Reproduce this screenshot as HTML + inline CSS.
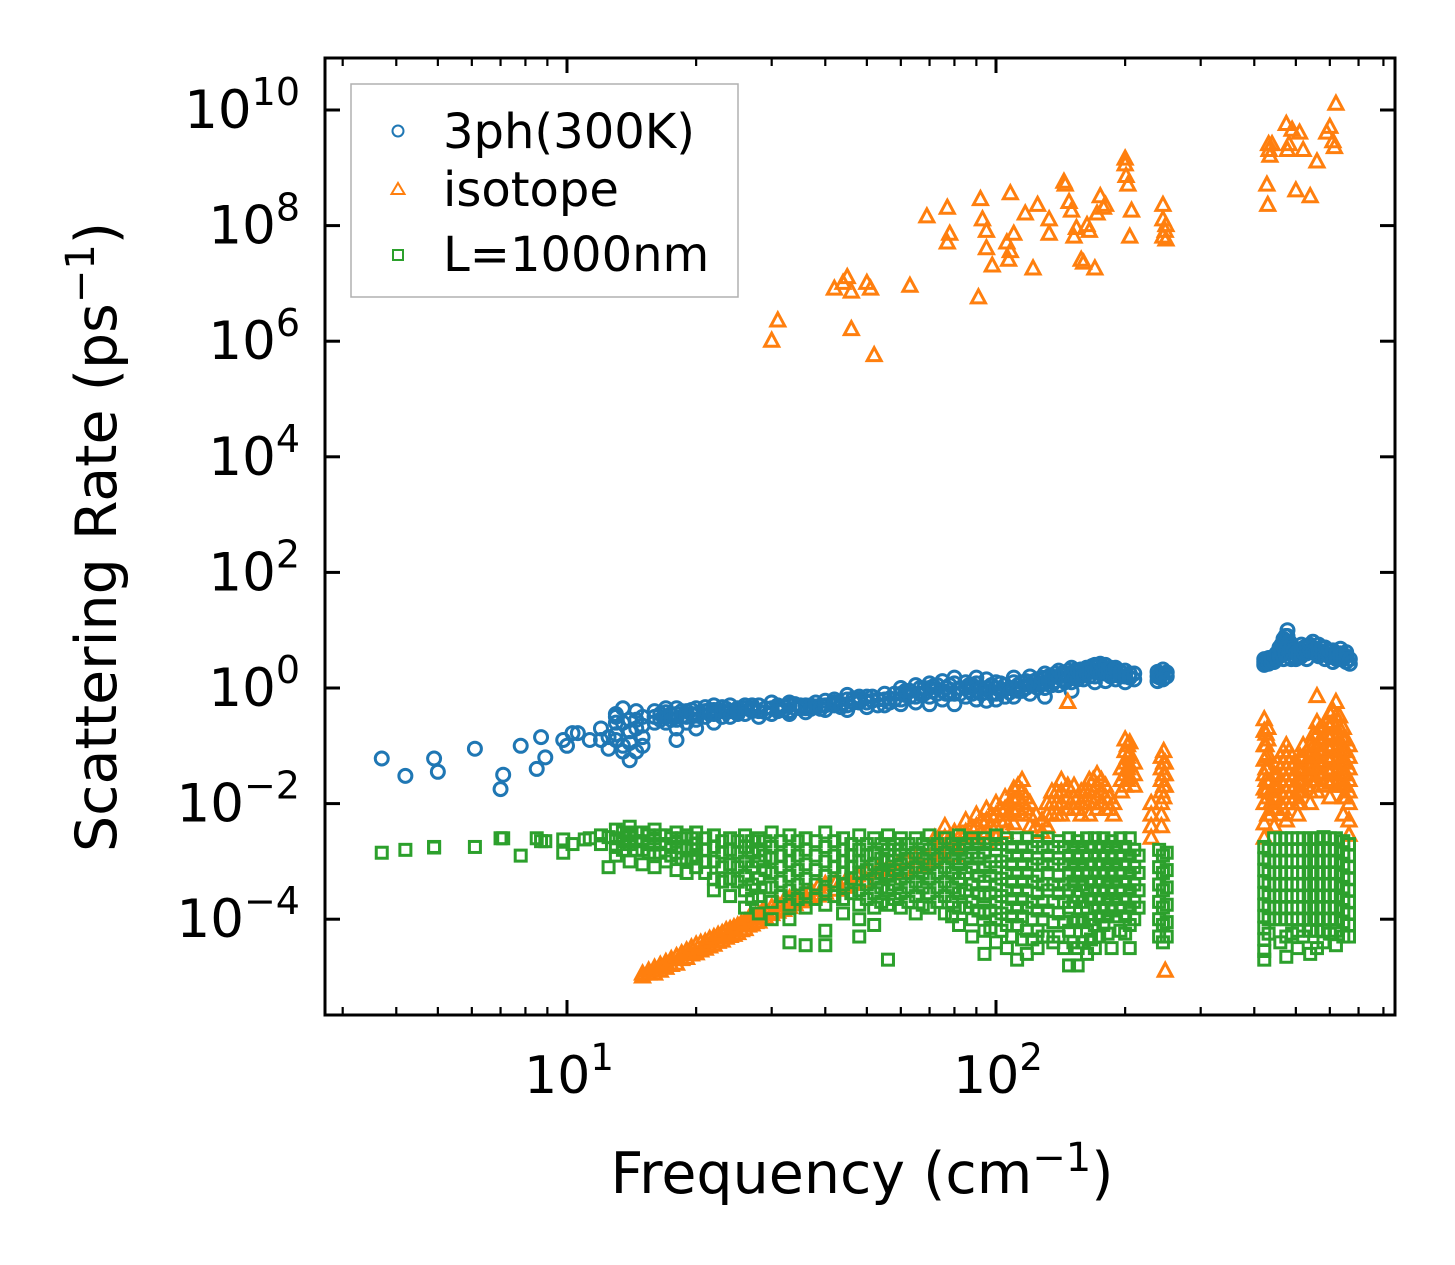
<!DOCTYPE html>
<html><head><meta charset="utf-8">
<style>
html,body{margin:0;padding:0;background:#fff;}
svg{display:block;font-family:"DejaVu Sans","Liberation Sans",sans-serif;}
</style></head>
<body>
<svg id="chart" width="1455" height="1265" viewBox="0 0 1455 1265" xmlns="http://www.w3.org/2000/svg">
<rect x="0" y="0" width="1455" height="1265" fill="#fff"/>
<g id="marks"></g>
<g id="axes"></g>
<g id="legend">
  <rect x="351" y="84" width="387" height="213" fill="#fff" fill-opacity="0.8" stroke="#b0b0b0" stroke-width="1.5"/>
  <circle cx="398" cy="131" r="5.5" fill="none" stroke="#1f77b4" stroke-width="2"/>
  <text x="443" y="148" font-size="48">3ph(300K)</text>
  <path d="M398,183 L404.5,194 L391.5,194 Z" fill="none" stroke="#ff7f0e" stroke-width="2"/>
  <text x="443" y="206" font-size="48">isotope</text>
  <rect x="393" y="250" width="10" height="10" fill="none" stroke="#2ca02c" stroke-width="2"/>
  <text x="443" y="271" font-size="48">L=1000nm</text>
</g>
</svg>
<script>
// ---- data: [frequency cm^-1, [log10 scattering rates ...]] ----
const xTickValues = [10, 100];
const yTickExponents = [-4, -2, 0, 2, 4, 6, 8, 10];
const blue3ph = [
[3.7,[-1.22]],[4.2,[-1.52]],[4.9,[-1.22]],[5,[-1.45]],[6.1,[-1.05]],[7,[-1.75]],[7.1,[-1.5]],[7.8,[-1.0]],[8.5,[-1.4]],[8.7,[-0.85]],[8.9,[-1.2]],
[9.8,[-0.9]],[10,[-1.0]],[10.3,[-0.78]],[10.6,[-0.78]],[11.3,[-0.9]],[12,[-0.9,-0.7]],[12.5,[-0.85,-1.05]],
[13,[-0.6,-0.5,-0.9,-0.8,-0.45]],[13.5,[-0.35,-0.6,-1.1,-1.0]],[14,[-0.55,-0.75,-1.25,-0.95]],[14.5,[-0.4,-0.55,-0.7,-1.1]],[15,[-0.5,-0.65,-1.0,-0.85]],
[16,[-0.5,-0.4,-0.6]],[16.5,[-0.45,-0.55]],[17,[-0.5,-0.42,-0.6,-0.35]],[17.5,[-0.45,-0.55]],[18,[-0.45,-0.55,-0.7,-0.9,-0.35]],[18.5,[-0.4,-0.5]],[19,[-0.5,-0.4,-0.6]],[19.5,[-0.45,-0.38]],[20,[-0.45,-0.55,-0.35,-0.7]],
[21,[-0.4,-0.5,-0.33]],[21.5,[-0.45,-0.38]],[22,[-0.45,-0.38,-0.6,-0.3]],[23,[-0.4,-0.5,-0.33]],[23.5,[-0.42,-0.36]],[24,[-0.4,-0.5,-0.3]],[25,[-0.35,-0.45,-0.4]],[26,[-0.35,-0.45,-0.3]],[27,[-0.4,-0.3,-0.35]],[28,[-0.4,-0.3,-0.5]],[29,[-0.35,-0.42]],
[30,[-0.35,-0.25,-0.45]],[31,[-0.35,-0.3,-0.4]],[32,[-0.32,-0.38]],[33,[-0.3,-0.4,-0.45,-0.25]],[34,[-0.35,-0.28]],[35,[-0.35,-0.3]],[36,[-0.35,-0.3,-0.42]],[37,[-0.3,-0.36]],[38,[-0.32,-0.25]],[39,[-0.3,-0.36]],[40,[-0.3,-0.38,-0.22]],
[42,[-0.3,-0.2,-0.25]],[43.5,[-0.27,-0.33]],[45,[-0.3,-0.2,-0.12,-0.38]],[46.5,[-0.25,-0.18]],[48,[-0.25,-0.15,-0.2]],[50,[-0.25,-0.15,-0.33]],[51.5,[-0.22,-0.15]],[53,[-0.2,-0.3]],[55,[-0.3,-0.2,-0.1]],[56.5,[-0.18,-0.25]],[58,[-0.2,-0.1]],
[60,[-0.2,-0.1,0,-0.28]],[61.5,[-0.12,-0.05]],[63,[-0.15,-0.05]],[65,[-0.15,-0.25,0.05]],[66.5,[-0.1,0]],[68,[-0.1,0]],[70,[-0.15,0,0.08,-0.28]],[71.5,[-0.05,0.03]],[73,[-0.1,0.05]],[75,[-0.2,-0.05,0.12]],[76.5,[0,-0.1]],[78,[-0.1,0.05]],
[80,[-0.1,0.08,-0.28,0.18]],[82.5,[0,-0.1]],[85,[-0.15,0,0.1]],[86.5,[-0.05,0.05]],[88,[-0.1,0.05]],[90,[-0.2,0.08,0.18,-0.05]],[92.5,[0,-0.1]],[95,[-0.22,0,0.15]],[97.5,[-0.1,0.05]],[100,[-0.2,-0.1,0.1,0]],[102.5,[-0.05,0.08]],[105,[-0.15,0.05]],[107.5,[0,-0.08]],
[110,[-0.15,0,0.1,0.18]],[112.5,[0.05,-0.05]],[115,[-0.05,0.1]],[117.5,[0,0.12]],[120,[-0.1,0.05,0.2]],[122.5,[0.05,0.12]],[125,[0,0.15]],[127.5,[0.08,0.18]],[130,[0,0.1,0.25,-0.15]],[132.5,[0.12,0.2]],[135,[0.05,0.2]],[137.5,[0.12,0.25]],[140,[0.05,0.2,0.3]],[142.5,[0.15,0.25]],[145,[0.1,0.25]],[147.5,[0.18,0.3]],
[150,[0.1,0.25,0.35,-0.05]],[152.5,[0.2,0.3]],[155,[0.15,0.3]],[157.5,[0.22,0.32]],[160,[0.15,0.3,0.22]],[162.5,[0.25,0.35]],[165,[0.2,0.35]],[167.5,[0.28,0.38]],[170,[0.2,0.4,0.1,0.3]],[172.5,[0.3,0.4]],[175,[0.25,0.42]],[177.5,[0.3,0.36]],[180,[0.25,0.4,0.12]],
[182.5,[0.25,0.32]],[185,[0.2,0.35]],[187.5,[0.22,0.3]],[190,[0.15,0.3,0.35]],[195,[0.2,0.28]],[200,[0.1,0.2,0.3]],[205,[0.18,0.25]],[210,[0.15,0.25]],[238,[0.12,0.2,0.28]],[241,[0.18,0.25]],[245,[0.15,0.25,0.32]],[250,[0.2,0.27]],
[422,[0.45,0.5,0.4]],[427,[0.42,0.5]],[432,[0.42,0.52]],[438,[0.45,0.52]],[445,[0.45,0.55]],[451,[0.5,0.6]],[458,[0.55,0.7]],[463,[0.6,0.75]],[468,[0.7,0.85,0.5]],[473,[0.8,0.9,0.6]],[478,[0.9,1.0,0.75]],[483,[0.8,0.65]],[488,[0.65,0.75,0.5]],[494,[0.55,0.65]],
[500,[0.5,0.6]],[507,[0.55,0.65]],[515,[0.55,0.65,0.75]],[522,[0.6,0.7]],[530,[0.6,0.72,0.5]],[539,[0.65,0.75]],[548,[0.7,0.62,0.8]],[556,[0.68,0.6]],[565,[0.65,0.55,0.75]],[575,[0.6,0.7]],[585,[0.6,0.5,0.7]],[597,[0.55,0.65]],[610,[0.55,0.65,0.45]],[622,[0.5,0.6]],
[635,[0.5,0.6,0.68]],[645,[0.5,0.58]],[655,[0.45,0.55,0.62]],[668,[0.42,0.5]]
];
const orangeIsotope = [
[30,[6.0]],[31,[6.35]],[42,[6.9]],[44,[7.0]],[45,[7.1]],[46,[6.2,6.85]],[50,[7.0]],[51,[6.9]],[52,[5.75]],[63,[6.95]],[69,[8.15]],
[77,[7.7,8.3]],[78,[7.85]],[91,[6.75]],[92,[8.45]],[93,[8.1]],[95,[7.9,7.6]],[98,[7.3]],[106,[7.7]],[107,[7.4]],[108,[8.55,7.55]],
[110,[7.85]],[117,[8.2]],[122,[7.25]],[125,[8.35]],[133,[8.1,7.85]],[144,[8.75]],[145,[8.7]],[148,[8.4]],[150,[8.25]],[152,[7.8]],
[154,[7.95]],[158,[7.4]],[160,[7.35]],[163,[8.0]],[165,[7.9]],[170,[7.25]],[172,[8.2]],[175,[8.5]],[178,[8.3]],[180,[8.35]],
[200,[9.15,9.05]],[201,[8.85]],[203,[8.7]],[205,[7.8]],[207,[8.25]],[245,[8.35,8.1,7.8]],[248,[7.9]],[249,[7.75,8.0]],
[428,[8.7]],[430,[8.35]],[432,[9.4]],[433,[9.3]],[435,[9.2]],[440,[9.4]],[475,[9.75]],[478,[9.3]],[482,[9.4]],[490,[9.65]],[500,[8.6]],
[510,[9.6]],[520,[9.3]],[540,[8.5]],[560,[9.1]],[590,[9.6]],[600,[9.7]],[610,[9.45]],[620,[10.1]],[615,[9.35]],
[15,[-4.95,-5.0]],[15.5,[-4.9,-4.95]],[16,[-4.85,-4.95]],[16.5,[-4.8,-4.9]],[17,[-4.75,-4.85]],[17.5,[-4.7,-4.8]],[18,[-4.65,-4.78]],[18.5,[-4.6,-4.7]],
[19,[-4.55,-4.68]],[19.5,[-4.5,-4.62]],[20,[-4.45,-4.6]],[20.5,[-4.42,-4.55]],[21,[-4.4,-4.52]],[21.5,[-4.35,-4.48]],[22,[-4.32,-4.45]],[22.5,[-4.28,-4.4]],[23,[-4.25,-4.38]],[23.5,[-4.2,-4.33]],[24,[-4.18,-4.3]],[24.5,[-4.15,-4.28]],[25,[-4.12,-4.25]],
[25.5,[-4.08,-4.2]],[26,[-4.05,-4.18]],[26.5,[-4.0,-4.12]],[27,[-3.98,-4.1]],[27.5,[-3.95,-4.06]],[28,[-3.92,-4.05]],[28.5,[-3.88,-4.0]],[29,[-3.85,-3.98]],[30,[-3.8,-3.92]],[31,[-3.75,-3.88]],[32,[-3.7,-3.85]],[33,[-3.65,-3.8]],[34,[-3.6,-3.75]],[35.5,[-3.55,-3.7]],[37,[-3.5,-3.65]],
[38.5,[-3.45,-3.6]],[40,[-3.4,-3.55]],[42.5,[-3.35,-3.5]],[45,[-3.3,-3.45]],[47.5,[-3.25,-3.4]],[50,[-3.2,-3.35]],[53,[-3.15,-3.3]],[56,[-3.1,-3.25]],[59,[-3.05,-3.2]],[62,[-3.0,-3.15]],[65,[-2.95,-3.1]],[68,[-2.9,-3.1]],
[72,[-2.6,-2.8,-3.0]],[74,[-2.7,-2.9]],[76,[-2.4,-2.6,-2.8]],[78,[-2.6,-2.8]],[80,[-2.5,-2.7,-2.9]],[82.5,[-2.55,-2.75]],[85,[-2.3,-2.5,-2.7]],[87.5,[-2.4,-2.6]],[90,[-2.2,-2.4,-2.6]],[92.5,[-2.3,-2.5]],[95,[-2.1,-2.3,-2.5,-2.7]],[97.5,[-2.2,-2.4]],
[100,[-2.0,-2.2,-2.4,-2.6]],[102.5,[-2.1,-2.3]],[105,[-1.9,-2.1,-2.3,-2.5]],[107.5,[-2.0,-2.2]],[110,[-1.75,-1.95,-2.15,-2.35]],[112.5,[-1.7,-1.9,-2.1]],[115,[-1.6,-1.8,-2.0,-2.2]],[117.5,[-1.9,-2.1]],[120,[-2.0,-2.2,-2.4]],[124,[-2.2,-2.4]],
[128,[-2.3,-2.5]],[131.5,[-2.0,-2.2,-2.4]],[135,[-1.8,-2.0,-2.2]],[138.5,[-1.8,-2.0,-2.2]],[142,[-1.6,-1.8,-2.0,-2.2]],[147,[-0.25,-1.7,-1.9,-2.1]],[152,[-1.7,-1.9,-2.1]],[155,[-1.9,-2.1]],[158,[-1.8,-2.0,-2.2]],[161.5,[-1.8,-2.0]],
[165,[-1.6,-1.8,-2.0,-2.2]],[168.5,[-1.6,-1.8,-2.0]],[172,[-1.5,-1.7,-1.9,-2.1]],[176,[-1.6,-1.8,-2.0]],[180,[-1.7,-1.9,-2.1]],[184,[-1.9,-2.1]],[188,[-2.0,-2.2]],[196,[-1.4,-1.6,-1.8]],[200,[-0.9,-1.1,-1.3,-1.5,-1.7]],[202.5,[-1.0,-1.2,-1.4,-1.6]],
[205,[-0.95,-1.15,-1.35,-1.55]],[210,[-1.3,-1.5,-1.7]],[230,[-2.0,-2.2,-2.4,-2.6]],[243,[-1.2,-1.4,-1.6,-1.8,-2.0,-2.2,-2.4]],[246,[-1.1,-1.3,-1.5,-1.7,-1.9]],[248,[-1.3,-1.5,-1.7,-4.9]],
[422,[-0.55,-0.75,-1.0,-1.25,-1.5,-1.75,-2.0,-2.35,-2.6]],[426,[-0.8,-1.0,-1.2,-1.4,-1.6,-1.8]],[430,[-0.7,-0.9,-1.15,-1.4,-1.65,-1.9,-2.2]],[437,[-1.6,-1.8,-2.0,-2.2]],[445,[-1.5,-1.7,-1.9,-2.1,-2.4]],[452,[-1.3,-1.5,-1.7,-1.9,-2.1]],
[460,[-1.2,-1.4,-1.6,-1.8,-2.0,-2.2]],[467,[-1.1,-1.3,-1.5,-1.7,-1.9,-2.1]],[475,[-1.0,-1.2,-1.4,-1.6,-1.8,-2.0,-2.3]],[482,[-1.1,-1.3,-1.5,-1.7,-1.9]],[490,[-1.2,-1.4,-1.6,-1.8,-2.0]],[497,[-1.3,-1.5,-1.7,-1.9]],[505,[-1.4,-1.6,-1.8,-2.0,-2.2]],
[512,[-1.2,-1.4,-1.6,-1.8,-2.0]],[520,[-1.0,-1.2,-1.4,-1.6,-1.8]],[530,[-1.1,-1.3,-1.5,-1.7]],[540,[-1.0,-1.2,-1.4,-1.6,-1.8,-2.0]],[550,[-0.8,-1.0,-1.2,-1.4,-1.6]],[560,[-0.15,-0.6,-0.8,-1.0,-1.2,-1.4,-1.6,-1.8]],[570,[-0.7,-0.9,-1.1,-1.3,-1.5]],[580,[-0.7,-0.9,-1.1,-1.3,-1.5,-1.7]],
[590,[-0.6,-0.8,-1.0,-1.2,-1.4,-1.6]],[600,[-0.45,-0.65,-0.85,-1.05,-1.25,-1.45,-1.65,-1.9]],[610,[-0.4,-0.6,-0.8,-1.0,-1.2,-1.4,-1.6]],[620,[-0.25,-0.5,-0.7,-0.9,-1.1,-1.3,-1.5,-1.7]],[632,[-0.5,-0.7,-0.9,-1.1,-1.3,-1.5,-1.7]],[645,[-0.7,-0.9,-1.1,-1.3,-1.5,-1.7,-1.9,-2.2]],
[655,[-0.9,-1.1,-1.3,-1.5,-1.7,-1.9]],[665,[-1.0,-1.2,-1.4,-1.6,-1.8,-2.0,-2.3,-2.55]]
];
const greenBoundary = [
[3.7,[-2.85]],[4.2,[-2.8]],[4.9,[-2.75,-2.76]],[6.1,[-2.75]],[7,[-2.6]],[7.1,[-2.6]],[7.8,[-2.9]],[8.5,[-2.6]],[8.7,[-2.65]],[8.9,[-2.65]],
[9.8,[-2.62,-2.85]],[10.3,[-2.7]],[11,[-2.62]],[11.3,[-2.6]],[12,[-2.7,-2.55]],[12.5,[-2.58,-3.1]],
[13,[-2.45,-2.6,-2.75,-2.9]],[13.5,[-2.5,-2.65,-2.8]],[14,[-2.4,-2.55,-2.7,-3.0]],[14.5,[-2.5,-2.65,-2.8]],[15,[-2.5,-2.65,-2.8,-3.05]],[15.5,[-2.55,-2.7,-2.85]],[16,[-2.45,-2.6,-2.9,-3.1]],[16.5,[-2.55,-2.7,-2.85]],[17,[-2.55,-2.7,-3.0]],[17.5,[-2.6,-2.75,-2.9]],
[18,[-2.5,-2.65,-2.85,-3.15]],[18.5,[-2.6,-2.75,-2.95]],[19,[-2.55,-2.75,-3.0,-3.2]],[19.5,[-2.6,-2.8,-2.95]],[20,[-2.5,-2.7,-2.9,-3.1]],[21,[-2.6,-2.8,-3.0,-3.2]],[22,[-2.55,-2.75,-3.0,-3.3,-3.5]],[23,[-2.65,-2.85,-3.1,-3.35]],[24,[-2.6,-2.8,-3.05,-3.3,-3.6]],[25,[-2.65,-2.85,-3.1,-3.35]],
[26,[-2.55,-2.75,-3.0,-3.25,-3.5,-3.8]],[27,[-2.65,-2.85,-3.1,-3.4,-3.65]],[28,[-2.6,-2.8,-3.0,-3.3,-3.6,-3.9]],[29,[-2.65,-2.9,-3.15,-3.45]],[30,[-2.5,-2.75,-2.95,-3.2,-3.45,-3.7,-4.0]],[31.5,[-2.65,-2.9,-3.1,-3.35,-3.6]],
[33,[-2.55,-2.8,-3.0,-3.25,-3.5,-3.75,-4.0,-4.4]],[34.5,[-2.65,-2.9,-3.15,-3.4,-3.65]],[36,[-2.6,-2.8,-3.05,-3.3,-3.55,-3.8,-4.45]],[38,[-2.65,-2.9,-3.15,-3.4,-3.65]],[40,[-2.5,-2.75,-3.0,-3.25,-3.5,-3.75,-4.45,-4.2]],[42,[-2.65,-2.9,-3.1,-3.35,-3.6]],
[44,[-2.6,-2.8,-3.0,-3.2,-3.4,-3.65,-3.9]],[46,[-2.7,-2.9,-3.1,-3.3,-3.55]],[48,[-2.55,-2.8,-3.0,-3.2,-3.5,-3.75,-4.3,-4.0]],[50,[-2.7,-2.9,-3.15,-3.4,-3.65]],[52,[-2.6,-2.85,-3.05,-3.3,-3.55,-3.8,-4.1]],[54,[-2.7,-2.95,-3.2,-3.45,-3.7]],
[56,[-2.55,-2.8,-3.0,-3.25,-3.5,-3.75,-4.7]],[58,[-2.7,-2.9,-3.15,-3.4,-3.65]],[60,[-2.6,-2.8,-3.05,-3.3,-3.55,-3.8]],[62.5,[-2.7,-2.95,-3.2,-3.45,-3.7]],[65,[-2.6,-2.85,-3.1,-3.35,-3.6,-3.9]],[67.5,[-2.7,-2.95,-3.2,-3.45,-3.75]],
[70,[-2.55,-2.8,-3.05,-3.3,-3.55,-3.8]],[73,[-2.7,-2.95,-3.2,-3.45,-3.7]],[76,[-2.6,-2.85,-3.1,-3.35,-3.6,-3.9]],[79,[-2.7,-2.95,-3.2,-3.45,-3.7,-3.95]],[82,[-2.55,-2.8,-3.05,-3.3,-3.55,-3.8,-4.1]],[85,[-2.7,-2.95,-3.2,-3.5,-3.8]],
[88,[-2.6,-2.85,-3.1,-3.4,-3.7,-4.0,-4.3]],[91,[-2.7,-2.95,-3.25,-3.55,-3.85]],[94,[-2.6,-2.85,-3.1,-3.35,-3.6,-3.9,-4.2,-4.6]],[97,[-2.7,-3.0,-3.25,-3.55,-3.85,-4.15]],[100,[-2.55,-2.8,-3.1,-3.4,-3.7,-4.0,-4.4]],[103,[-2.7,-3.0,-3.3,-3.6,-3.9,-4.2]],
[106,[-2.6,-2.9,-3.2,-3.5,-3.8,-4.1,-4.5]],[109,[-2.75,-3.05,-3.35,-3.65,-3.95,-4.3]],[112,[-2.6,-2.9,-3.2,-3.5,-3.8,-4.1,-4.7]],[115,[-2.75,-3.05,-3.35,-3.65,-3.95,-4.35]],[118,[-2.6,-2.9,-3.2,-3.5,-3.8,-4.2,-4.6]],[121.5,[-2.75,-3.05,-3.35,-3.7,-4.0,-4.35]],
[125,[-2.65,-2.95,-3.25,-3.55,-3.85,-4.2,-4.5]],[128.5,[-2.75,-3.05,-3.4,-3.7,-4.0,-4.3]],[132,[-2.6,-2.9,-3.2,-3.5,-3.85,-4.3]],[136,[-2.75,-3.05,-3.4,-3.7,-4.05,-4.4]],[140,[-2.65,-2.95,-3.25,-3.55,-3.9,-4.3]],[144,[-2.75,-3.05,-3.4,-3.7,-4.05,-4.5]],
[148,[-2.6,-2.9,-3.2,-3.5,-3.8,-4.2,-4.8]],[151.5,[-2.75,-3.05,-3.35,-3.7,-4.05,-4.4]],[155,[-2.65,-2.95,-3.25,-3.6,-4.0,-4.5,-4.8]],[159,[-2.75,-3.05,-3.4,-3.7,-4.05,-4.4]],[163,[-2.6,-2.9,-3.2,-3.5,-3.8,-4.2,-4.6]],[166.5,[-2.75,-3.05,-3.35,-3.65,-4.0,-4.35]],
[170,[-2.6,-2.9,-3.2,-3.5,-3.8,-4.1,-4.5]],[174,[-2.75,-3.05,-3.35,-3.65,-3.95,-4.3]],[178,[-2.6,-2.9,-3.2,-3.5,-3.8,-4.1]],[182,[-2.75,-3.05,-3.35,-3.65,-3.95,-4.25]],[186,[-2.65,-2.95,-3.25,-3.55,-3.85,-4.5]],[190.5,[-2.75,-3.05,-3.35,-3.65,-3.95]],
[195,[-2.6,-2.9,-3.2,-3.5,-3.8,-4.2]],[200,[-2.75,-3.05,-3.35,-3.65,-3.95,-4.25]],[205,[-2.6,-2.9,-3.2,-3.5,-3.8,-4.1,-4.5]],[210,[-2.8,-3.1,-3.4,-3.7,-4.0]],[215,[-2.9,-3.2,-3.5,-3.8]],
[240,[-2.8,-3.1,-3.4,-3.7,-4.0,-4.3]],[245,[-2.9,-3.2,-3.5,-3.8,-4.1,-4.4]],[250,[-2.85,-3.15,-3.45,-3.75,-4.05,-4.3]],
[422,[-2.75,-2.95,-3.15,-3.35,-3.55,-3.75,-3.95,-4.15,-4.35,-4.55,-4.7]],[432,[-2.8,-3.0,-3.2,-3.4,-3.6,-3.8,-4.0,-4.25]],
[445,[-2.6,-2.8,-3.0,-3.2,-3.4,-3.6,-3.8,-4.0]],[460,[-2.6,-2.8,-3.0,-3.2,-3.4,-3.6,-3.8,-4.0,-4.4]],
[475,[-2.6,-2.8,-3.0,-3.2,-3.4,-3.6,-3.8,-4.0,-4.3,-4.65]],[490,[-2.6,-2.8,-3.0,-3.2,-3.4,-3.6,-3.8,-4.0,-4.25]],
[505,[-2.6,-2.8,-3.0,-3.2,-3.4,-3.6,-3.8,-4.0,-4.2,-4.5]],[520,[-2.6,-2.8,-3.0,-3.2,-3.4,-3.6,-3.8,-4.0,-4.3]],
[540,[-2.6,-2.8,-3.0,-3.2,-3.4,-3.6,-3.8,-4.0,-4.2,-4.6]],[560,[-2.6,-2.8,-3.0,-3.2,-3.4,-3.6,-3.8,-4.0,-4.2,-4.5]],
[580,[-2.58,-2.8,-3.0,-3.2,-3.4,-3.6,-3.8,-4.0,-4.2,-4.4]],[600,[-2.6,-2.8,-3.0,-3.2,-3.4,-3.6,-3.8,-4.0,-4.25]],
[620,[-2.6,-2.8,-3.0,-3.2,-3.4,-3.6,-3.8,-4.0,-4.2,-4.45]],[645,[-2.65,-2.85,-3.05,-3.25,-3.45,-3.65,-3.85,-4.05,-4.3]],
[665,[-2.7,-2.9,-3.1,-3.3,-3.5,-3.7,-3.9,-4.1,-4.3]]
];

const NS = 'http://www.w3.org/2000/svg';
const L = 325, R = 1395, T = 58, B = 1015;
function xPos(v){ return 567 + (Math.log10(v) - 1) * 429; }
function yPos(e){ return 688 - e * 57.8; }
function mk(tag, attrs, parent){
  const el = document.createElementNS(NS, tag);
  for (const k in attrs) el.setAttribute(k, attrs[k]);
  parent.appendChild(el);
  return el;
}
const marks = document.getElementById('marks');
const axes = document.getElementById('axes');

const gB = mk('g', {fill:'none', stroke:'#1f77b4', 'stroke-width':3}, marks);


blue3ph.forEach(([x, es]) => es.forEach(e => {
  const c = mk('circle', {cx:xPos(x), cy:yPos(e), r:6.5}, gB);
  
  
}));
const gO = mk('g', {fill:'none', stroke:'#ff7f0e', 'stroke-width':3}, marks);


orangeIsotope.forEach(([x, es]) => es.forEach(e => {
  const px = xPos(x), py = yPos(e);
  const p = mk('path', {d:`M${px},${py-8} L${px+7},${py+5} L${px-7},${py+5} Z`}, gO);
  
  
}));
const gG = mk('g', {fill:'none', stroke:'#2ca02c', 'stroke-width':3}, marks);


greenBoundary.forEach(([x, es]) => es.forEach(e => {
  const r = mk('rect', {x:xPos(x)-5.5, y:yPos(e)-5.5, width:11, height:11}, gG);
  
  
}));

// frame
const frame = mk('rect', {x:L, y:T, width:R-L, height:B-T, fill:'none', stroke:'#000', 'stroke-width':3}, axes);



// y ticks
yTickExponents.forEach(e => {
  const y = yPos(e);
  const t1 = mk('line', {x1:L, x2:L+15, y1:y, y2:y, stroke:'#000', 'stroke-width':3}, axes);
  
  
  const t2 = mk('line', {x1:R, x2:R-15, y1:y, y2:y, stroke:'#000', 'stroke-width':3}, axes);
  
  
  const tx = mk('text', {x:300, y:y+18, 'font-size':53, 'text-anchor':'end'}, axes);
  
  
  tx.appendChild(document.createTextNode('10'));
  const sup = mk('tspan', {dy:-23, 'font-size':38}, tx);
  sup.textContent = e < 0 ? '\u2212' + Math.abs(e) : String(e);
});
// x ticks
for (let d = 0; d <= 2; d++) {
  for (let m = 1; m <= 9; m++) {
    const v = m * Math.pow(10, d);
    const x = xPos(v);
    if (x < L + 2 || x > R - 2) continue;
    const major = m === 1;
    const len = major ? 15 : 8;
    const a = mk('line', {x1:x, x2:x, y1:B, y2:B-len, stroke:'#000', 'stroke-width':major?3:2.2}, axes);
    
    
    const b = mk('line', {x1:x, x2:x, y1:T, y2:T+len, stroke:'#000', 'stroke-width':major?3:2.2}, axes);
    
    
  }
}
xTickValues.forEach(v => {
  const tx = mk('text', {x:xPos(v)+2, y:1093, 'font-size':52, 'text-anchor':'middle'}, axes);
  
  
  tx.appendChild(document.createTextNode('10'));
  const sup = mk('tspan', {dy:-23, 'font-size':37}, tx);
  sup.textContent = String(Math.round(Math.log10(v)));
});
// axis titles
const xt = mk('text', {x:862, y:1193, 'font-size':57, 'text-anchor':'middle'}, axes);


xt.innerHTML = 'Frequency (cm<tspan dy="-22" font-size="40">\u22121</tspan><tspan dy="22">)</tspan>';
const yt = mk('text', {x:0, y:0, 'font-size':57, 'text-anchor':'middle', transform:'translate(116,537) rotate(-90)'}, axes);


yt.innerHTML = 'Scattering Rate (ps<tspan dy="-22" font-size="40">\u22121</tspan><tspan dy="22">)</tspan>';
</script>
</body></html>
